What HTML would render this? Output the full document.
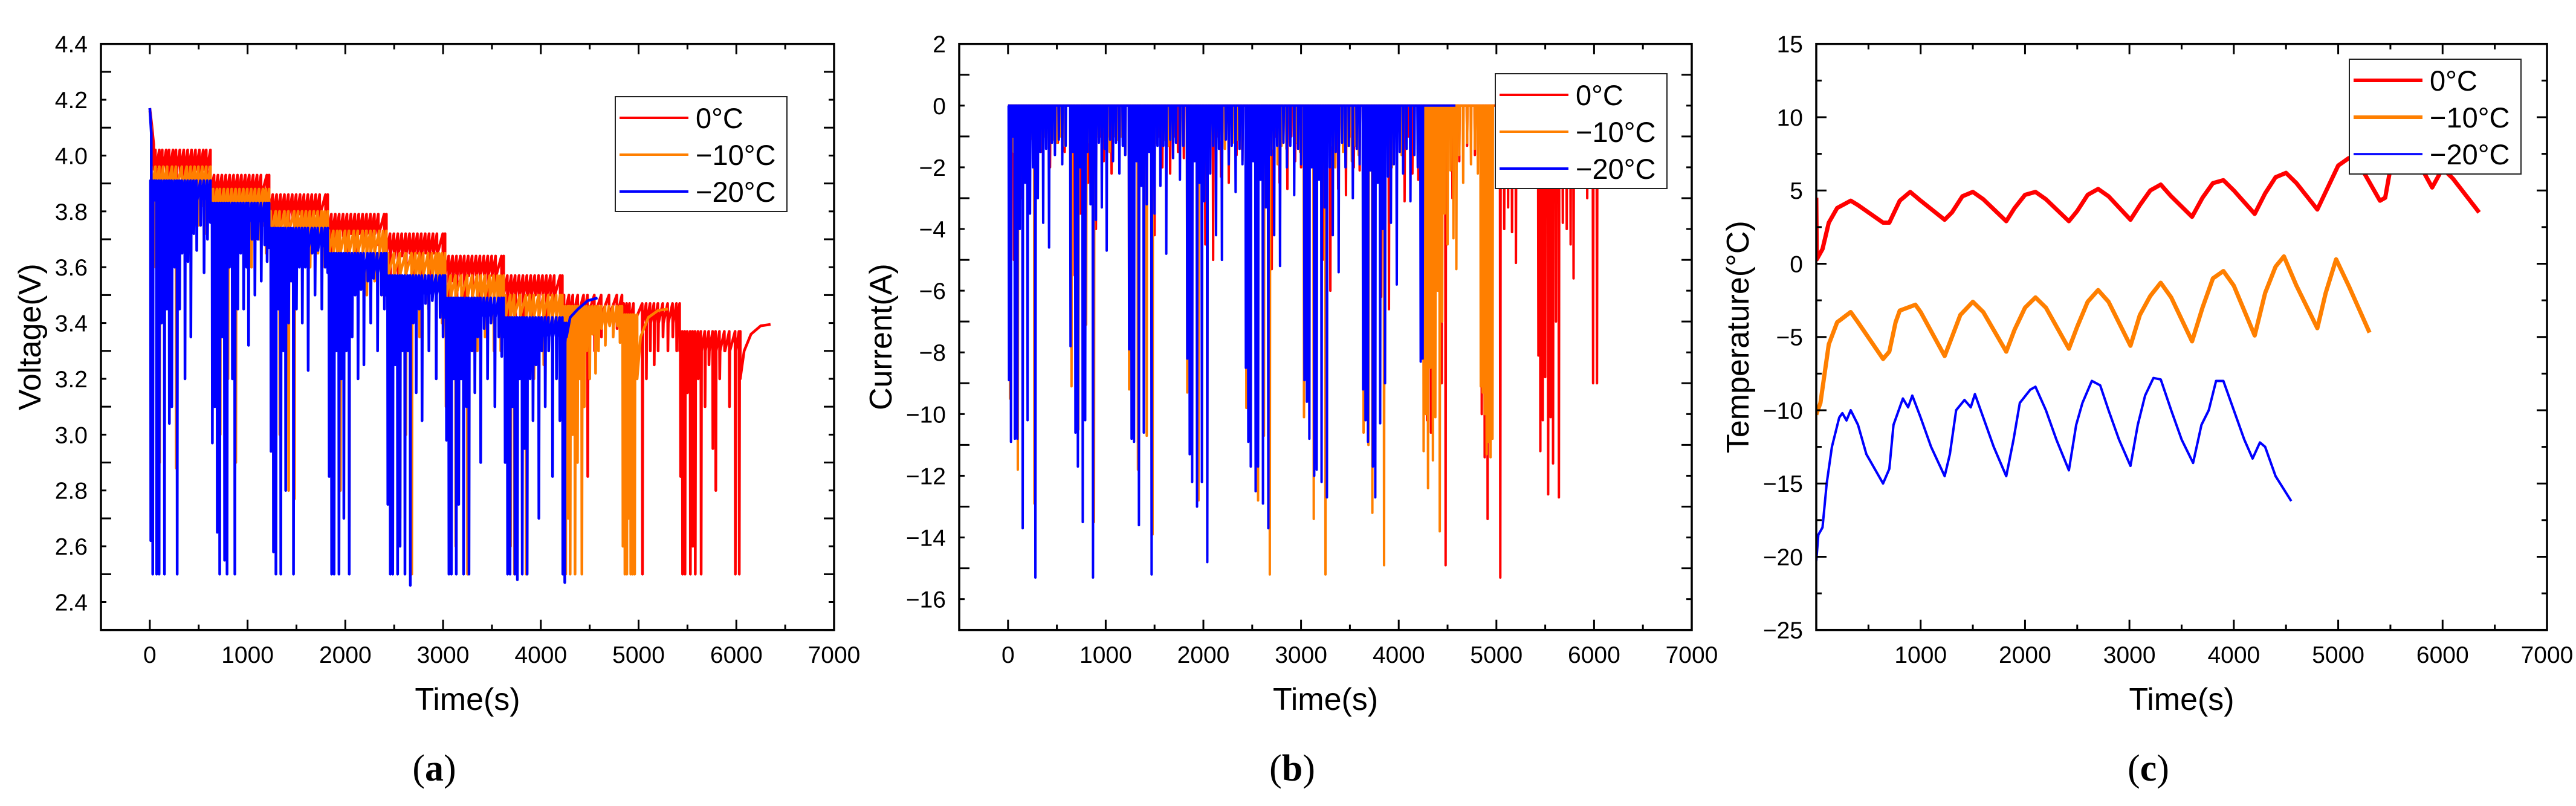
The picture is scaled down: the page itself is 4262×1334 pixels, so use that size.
<!DOCTYPE html>
<html><head><meta charset="utf-8"><style>
html,body{margin:0;padding:0;background:#fff;}
svg{display:block;font-family:"Liberation Sans",sans-serif;}
</style></head><body>
<svg id="fig" width="4262" height="1334" viewBox="0 0 4262 1334" xmlns="http://www.w3.org/2000/svg"></svg>
<script>
// ===== Panel (a)/(b) data: blue (-20°C) =====
const blueBlockStart=[0,620,1220,1820,2420,3020,3620,4220];
const blueBlockTop=[3.91,3.83,3.74,3.65,3.57,3.49,3.42,3.40];
const blueStartT=[0,15];
const blueStartV=[4.17,4.08];
const blueT=[10,30,50,70,95,120,150,175,200,225,255,280,305,330,360,390,420,450,480,520,555,590,
640,665,690,715,740,765,790,815,845,870,900,930,960,990,1010,1045,1075,1105,1140,1175,1200,
1240,1265,1290,1315,1340,1365,1390,1420,1445,1470,1500,1530,1560,1590,1620,1660,1690,1720,1760,1795,
1835,1860,1885,1910,1935,1960,1985,2010,2040,2070,2100,2130,2160,2190,2230,2260,2290,2330,2370,2400,
2435,2460,2485,2510,2535,2560,2585,2610,2640,2665,2695,2725,2755,2785,2820,2855,2890,2930,2970,3000,
3035,3060,3085,3110,3135,3160,3185,3210,3240,3265,3295,3325,3355,3385,3420,3455,3490,3530,3570,3600,
3635,3660,3685,3710,3735,3760,3785,3810,3835,3860,3890,3920,3950,3980,4010,4045,4080,4120,4160,4195,
4225,4245];
const blueV=[2.62,2.5,3.87,2.5,2.5,3.4,2.5,3.45,3.04,3.1,3.6,2.5,3.45,3.65,3.2,3.62,3.35,3.72,3.66,3.75,3.58,3.7,
2.97,3.1,2.65,2.5,3.35,2.55,2.5,3.6,3.2,2.5,3.45,3.65,3.45,3.6,3.32,3.7,3.5,3.7,3.55,3.68,3.62,
2.94,2.58,2.5,3.45,2.5,3.3,2.8,3.4,3.55,2.5,3.45,3.6,3.4,3.6,3.23,3.65,3.5,3.66,3.45,3.6,
2.85,2.5,2.5,3.3,2.5,3.2,2.7,3.3,2.5,3.35,3.5,3.2,3.52,3.25,3.55,3.4,3.56,3.3,3.5,3.45,
2.75,2.5,2.5,3.25,2.5,2.6,3.3,2.5,3.3,2.46,3.4,3.15,3.45,3.05,3.47,3.3,3.48,3.2,3.42,3.35,
2.98,2.5,2.5,3.2,2.5,2.75,3.2,2.5,3.1,2.5,3.3,3.15,3.35,2.9,3.38,3.2,3.4,3.1,3.35,3.28,
2.9,2.5,2.5,3.1,2.5,2.48,3.2,2.5,2.95,2.5,3.2,3.05,3.25,2.7,3.3,3.1,3.3,2.85,3.2,3.05,
2.5,2.47];
const blueI=[-8.9,-10.9,-1,-10.8,-10.8,-4,-13.7,-2.5,-10.2,-3.5,-2,-15.3,-3,-1.5,-3.8,-1.4,-4.6,-1.2,-1.6,-1.1,-1.9,-1.3,
-7.8,-1.5,-10.6,-11.7,-2,-13.5,-10.2,-1.5,-3.2,-15.3,-3.7,-1.2,-3.3,-1.4,-4.7,-1.1,-1.8,-1.2,-2.2,-1.3,-1.6,
-7.9,-10.8,-10.9,-1.8,-13.6,-2.6,-10.6,-3.2,-1.5,-15.2,-3.5,-1.3,-2.6,-1.3,-4.8,-1.1,-1.7,-1.2,-2.4,-1.3,
-8.2,-11.3,-12.2,-1.8,-13,-2.5,-12.2,-3.1,-14.8,-2.2,-1.3,-4.2,-1.4,-5,-1.1,-1.9,-1.3,-2.8,-1.4,-1.9,
-8.5,-10.9,-11.7,-1.8,-12.5,-11.7,-2.4,-12.9,-3.3,-13.7,-1.6,-4.2,-1.3,-5.2,-1.2,-2,-1.3,-2.9,-1.4,-1.9,
-8.9,-9.6,-10.8,-2,-12,-11.8,-2.4,-12.2,-3.3,-12.7,-2,-4.2,-1.5,-5.4,-1.2,-2,-1.3,-3,-1.4,-1.9,
-9.2,-10.2,-10.9,-2.1,-11.7,-12.7,-2.5,-10.3,-4,-9,-2.3,-3.8,-1.9,-5.8,-1.5,-2.2,-1.4,-3.1,-1.6,-2,
-8.3,-8.2];
const blueRelaxT=[4262,4300,4380,4480,4580];
const blueRelaxV=[3.35,3.42,3.45,3.48,3.49];

// ===== orange (-10°C) =====
const orangeBlockStart=[0,620,1220,1820,2420,3020,3620,4220,4830];
const orangeBlockTop=[3.96,3.88,3.80,3.73,3.65,3.57,3.50,3.46,3.43];
const orangeStartT=[0,15];
const orangeStartV=[4.16,4.1];
const orangeT=[20,60,100,140,180,230,270,330,380,420,460,500,540,580,
650,690,720,760,800,840,880,920,960,1000,1040,1080,1120,1160,1190,
1240,1290,1330,1380,1420,1480,1520,1560,1600,1640,1680,1720,1760,1790,
1835,1880,1920,1950,2000,2040,2090,2130,2180,2220,2260,2300,2350,2390,
2440,2500,2560,2620,2680,2720,2760,2800,2850,2890,2930,2960,2990,
3030,3080,3130,3190,3250,3300,3350,3390,3430,3480,3520,3560,3590,
3640,3690,3730,3790,3850,3890,3930,3980,4030,4080,4120,4160,4200,
4230,4255,4280,4300,4325,4350,4375,4400,4420,4445,4470,4500,4530,4560,4590,4620,4660,4700,4740,4780,4810,
4840,4860,4880,4900,4920,4940,4960];
const orangeV=[2.9,3.6,2.9,3.7,3.5,3.75,2.88,3.7,3.78,3.55,3.8,3.75,3.82,3.72,
3.3,3.7,3.0,3.72,3.2,3.7,2.9,3.74,3.65,3.75,3.6,3.76,3.7,3.75,3.65,
3.3,3.65,3.0,3.66,2.8,2.77,3.66,3.55,3.7,3.6,3.7,3.65,3.68,3.6,
3.3,2.9,3.6,2.8,3.6,2.67,3.62,3.4,3.62,3.5,3.6,3.55,3.62,3.5,
3.2,3.5,2.7,3.0,2.5,3.5,3.35,3.52,3.45,3.54,3.4,3.52,3.4,
3.1,3.1,2.6,3.42,2.5,3.45,3.3,3.46,3.35,3.46,3.3,3.44,3.3,
3.0,2.6,2.5,3.38,2.5,3.4,3.2,3.38,3.25,3.38,3.2,3.36,3.1,
2.5,2.5,2.7,2.5,3.0,2.5,2.9,3.2,2.5,3.1,3.3,3.2,3.36,3.22,3.3,3.38,3.32,3.4,3.35,3.4,3.33,
2.6,2.5,2.5,2.7,2.5,2.5,2.5];
const orangeI=[-9.5,-1.5,-11.8,-1.2,-2,-1.1,-12.9,-1.4,-1,-3,-1.1,-1.2,-1,-1.3,
-9.1,-1.2,-10.5,-1.1,-7.1,-1.2,-13.5,-1,-1.3,-1.1,-1.5,-1,-1.1,-1,-1.3,
-9.2,-1.3,-11.8,-1.2,-10.7,-13.9,-1.2,-1.6,-1.1,-1.3,-1.1,-1.1,-1,-1.3,
-9.3,-10.1,-1.3,-12.8,-1.2,-14.6,-1.1,-1.7,-1.1,-1.4,-1.2,-1.2,-1.1,-1.4,
-9.8,-1.5,-12.8,-10.7,-15.2,-1.4,-1.9,-1.3,-1.4,-1.2,-1.6,-1.2,-1.5,
-10.1,-9.6,-13.4,-1.5,-15.2,-1.3,-2,-1.3,-1.5,-1.3,-1.8,-1.3,-1.6,
-10.6,-11,-13.2,-1.5,-14.9,-1.4,-2,-1.4,-1.6,-1.4,-1.8,-1.4,-2,
-8.2,-11.2,-10,-12.4,-8.5,-11.5,-10.1,-6,-13.8,-7,-3.5,-4.5,-2.1,-4.3,-5.3,-1.6,-2.5,-1.2,-1.9,-1.4,-2.2,
-9.1,-9.3,-10,-11.3,-10.9,-11.4,-10.8];
const orangeRelaxT=[4985,5020,5100,5200,5300];
const orangeRelaxV=[3.2,3.35,3.42,3.445,3.45];

// ===== red (0°C) =====
const redBlockStart=[0,620,1220,1820,2420,3020,3620,4220,4830,5420];
const redBlockTop=[4.02,3.93,3.86,3.79,3.72,3.64,3.57,3.50,3.47,3.37];
const redStartT=[0,20,40];
const redStartV=[4.17,4.11,4.04];
const redT=[60,100,130,170,200,240,270,310,350,390,430,470,510,550,580,
660,700,740,780,820,860,900,940,980,1020,1060,1100,1140,1200,
1260,1300,1340,1380,1420,1460,1500,1540,1580,1620,1660,1700,1740,1800,
1860,1900,1940,1980,2020,2060,2100,2140,2180,2220,2260,2300,2340,2400,
2460,2500,2540,2580,2620,2660,2700,2740,2780,2820,2860,2900,2940,3000,
3060,3100,3140,3180,3220,3260,3300,3340,3380,3420,3460,3500,3540,3600,
3660,3700,3740,3780,3820,3860,3900,3940,3980,4020,4060,4100,4140,4200,
4240,4290,4330,4380,4440,4480,4550,4620,4700,4780,
4850,4880,4910,4950,5040,5080,5120,5160,5200,5250,5300,5350,5390,
5430,5450,5475,5500,5530,5555,5580,5610,5640,5680,5720,5760,5790,5830,5880,5930,5990,6030];
const redV=[3.6,3.9,3.7,3.92,3.8,3.93,3.75,3.94,3.85,3.93,3.8,3.95,3.88,3.95,3.85,
3.55,3.84,3.65,3.85,3.7,3.86,3.6,3.86,3.75,3.87,3.7,3.86,3.8,3.78,
3.5,3.77,3.6,3.78,3.62,3.78,3.55,3.79,3.7,3.78,3.68,3.8,3.75,3.72,
3.45,3.7,3.5,3.71,3.55,3.72,3.5,3.72,3.62,3.72,3.6,3.73,3.68,3.65,
3.35,3.63,3.45,3.64,3.4,3.65,3.42,3.65,3.55,3.66,3.52,3.66,3.6,3.58,
3.3,3.55,3.35,3.56,3.4,3.57,3.3,3.57,3.48,3.58,3.45,3.58,3.52,3.5,
3.2,3.48,3.3,3.49,3.28,3.5,3.25,3.5,3.4,3.5,3.38,3.5,3.45,3.42,
3.0,3.1,3.2,3.3,3.1,2.85,3.3,3.35,3.4,3.38,
2.9,3.2,3.0,3.3,2.5,3.2,3.3,3.25,3.3,3.35,3.3,3.35,3.3,
2.85,2.5,2.5,3.15,2.5,2.6,2.5,3.2,2.5,3.1,3.25,2.95,2.8,3.2,3.3,3.1,2.5,2.5];
const redI=[-5,-1,-3,-1,-2,-1,-2.5,-1,-1.5,-1,-2,-1,-1.2,-1,-1.5,
-5.5,-1,-3.5,-1,-2.5,-1,-4,-1,-1.8,-1,-2.2,-1,-1.4,-1.6,
-6,-1,-4,-1,-3.5,-1,-4.2,-1,-2,-1,-2.2,-1,-1.5,-1.7,
-6.2,-1,-5,-1,-4.5,-1,-5,-1,-2.3,-1,-2.5,-1,-1.6,-1.8,
-6.5,-1,-5.2,-1,-5.5,-1,-5.3,-1,-2.5,-1,-2.7,-1,-1.8,-2,
-6.8,-1,-5.5,-1,-5,-1,-6,-1,-2.7,-1,-2.9,-1,-2,-2.1,
-7.5,-1,-6,-1,-6.2,-1,-6.6,-1,-3,-1,-3.1,-1,-2.2,-2.4,
-8,-10.2,-10.6,-6,-9,-14.9,-3,-1.8,-1.3,-1.6,
-10,-11.4,-13.4,-5,-15.3,-4,-3.3,-4.1,-5.1,-2,-2.6,-1.6,-2,
-8.1,-11.2,-10.2,-8.8,-12.6,-10.1,-11.6,-7,-12.7,-3.8,-4,-4.5,-5.6,-2.5,-1.6,-3,-9,-9];
const redRelaxT=[6040,6080,6150,6250,6350];
const redRelaxV=[3.2,3.3,3.36,3.39,3.395];

// ===== Panel (c) temperature =====
const tempRedT=[0,5,60,120,200,330,400,640,700,800,900,1000,1230,1300,1400,1500,1600,1820,1900,2000,2100,2200,2420,2500,2600,2700,2800,3010,3100,3200,3300,3400,3600,3700,3800,3900,4000,4200,4300,4400,4500,4600,4800,4900,5000,5100,5200,5400,5450,5500,5600,5700,5800,5900,6000,6100,6350];
const tempRedV=[4.5,0.3,1,2.8,3.8,4.3,4,2.8,2.8,4.3,4.9,4.3,3,3.5,4.6,4.9,4.4,2.9,3.8,4.7,4.9,4.4,2.9,3.6,4.7,5.1,4.6,3.0,4,5,5.4,4.6,3.2,4.5,5.5,5.7,5,3.4,4.8,5.9,6.2,5.5,3.7,5.2,6.7,7.2,6.8,4.3,4.5,6.5,7.3,7.3,6.5,5.2,6.5,5.8,3.5];
const tempOrangeT=[0,40,80,120,200,330,400,640,700,760,800,950,1000,1230,1300,1380,1500,1600,1820,1900,2000,2100,2200,2420,2500,2600,2700,2800,3010,3100,3200,3300,3400,3600,3700,3800,3900,4000,4200,4300,4400,4480,4600,4800,4880,4980,5100,5300];
const tempOrangeV=[-10.3,-9.5,-7.5,-5.5,-4,-3.3,-4,-6.5,-6,-4,-3.2,-2.8,-3.3,-6.3,-5,-3.5,-2.6,-3.3,-6,-4.5,-3,-2.3,-3,-5.8,-4.3,-2.6,-1.8,-2.6,-5.6,-3.5,-2.2,-1.3,-2.3,-5.3,-3,-1,-0.5,-1.5,-4.9,-2,-0.2,0.5,-1.5,-4.4,-2,0.3,-1.5,-4.7];
const tempBlueT=[0,20,60,100,150,220,250,290,330,400,480,640,700,740,830,880,920,1000,1100,1230,1280,1340,1420,1480,1520,1600,1700,1820,1890,1950,2050,2100,2200,2300,2420,2490,2550,2640,2720,2800,2900,3010,3080,3150,3230,3300,3400,3500,3610,3690,3760,3830,3900,4000,4100,4180,4250,4300,4400,4550];
const tempBlueV=[-20.3,-18.5,-18,-15,-12.5,-10.5,-10.2,-10.7,-10,-11,-13,-15,-14,-11,-9.2,-9.8,-9,-10.5,-12.5,-14.5,-13,-10,-9.3,-9.8,-8.9,-10.5,-12.5,-14.5,-12,-9.5,-8.6,-8.4,-10,-12,-14.1,-11,-9.5,-8,-8.3,-10,-12,-13.8,-11,-9,-7.8,-7.9,-10,-12,-13.6,-11,-10,-8,-8,-10,-12,-13.3,-12.2,-12.5,-14.5,-16.2];

// tick arrays
const xTicksAB=[0,1000,2000,3000,4000,5000,6000,7000];
const xTicksC=[1000,2000,3000,4000,5000,6000,7000];
const yTicksA=[2.4,2.6,2.8,3.0,3.2,3.4,3.6,3.8,4.0,4.2,4.4];
const yTicksB=[2,0,-2,-4,-6,-8,-10,-12,-14,-16];
const yTicksC=[15,10,5,0,-5,-10,-15,-20,-25];
const legendLabels=["0°C","−10°C","−20°C"];
const COLORS=["#ff0000","#ff7f00","#0000ff"];
const RECOVERY_DROP=0.07; // visual recovery sag after each pulse (V)

const NS="http://www.w3.org/2000/svg";
const svg=document.getElementById('fig');
function el(tag,attrs,parent,txt){const e=document.createElementNS(NS,tag);for(const k in attrs)e.setAttribute(k,attrs[k]);if(txt!==undefined)e.textContent=txt;(parent||svg).appendChild(e);return e;}
function fmtNeg(v,dec){const s=Math.abs(v).toFixed(dec);return (v<0?"−":"")+s;}

function makePanel(cfg){
  const g=el('g',{});
  
  
  const L=cfg.left,R=cfg.right,T=72.7,B=1042.7;
  const sx=v=>L+(v-cfg.xmin)/(cfg.xmax-cfg.xmin)*(R-L);
  const sy=v=>T+(cfg.ymax-v)/(cfg.ymax-cfg.ymin)*(B-T);
  const clip=el('clipPath',{id:'clip-'+cfg.name},g);
  el('rect',{x:L,y:T,width:R-L,height:B-T},clip);
  const plot=el('g',{'clip-path':'url(#clip-'+cfg.name+')'},g);
  
  
  cfg.draw(plot,sx,sy);
  const fr=el('rect',{x:L,y:T,width:R-L,height:B-T,fill:'none',stroke:'#000','stroke-width':3.5},g);
  
  
  const xax=el('g',{},g);
  
  
  for(let v=cfg.xmin;v<=cfg.xmax;v+=500){
    const X=sx(v);const major=(v%1000===0);const len=major?17:9;
    el('line',{x1:X,y1:B,x2:X,y2:B-len,stroke:'#000','stroke-width':3},xax);
    el('line',{x1:X,y1:T,x2:X,y2:T+len,stroke:'#000','stroke-width':3},xax);
  }
  cfg.xTicks.forEach(v=>{
    const t=el('text',{x:sx(v),y:1097,'font-size':39,'text-anchor':'middle'},xax,String(v));
    
    
  });
  const xt=el('text',{x:(L+R)/2,y:1175,'font-size':52,'text-anchor':'middle'},g,'Time(s)');
  
  
  const yax=el('g',{},g);
  
  
  for(let i=0;;i++){const v=cfg.ymin+i*cfg.yminor;if(v>cfg.ymax+1e-9)break;
    const Y=sy(v);const major=(i%cfg.majorEvery)===0;const len=major?17:9;
    el('line',{x1:L,y1:Y,x2:L+len,y2:Y,stroke:'#000','stroke-width':3},yax);
    el('line',{x1:R,y1:Y,x2:R-len,y2:Y,stroke:'#000','stroke-width':3},yax);
  }
  cfg.yTicks.forEach(v=>{
    const t=el('text',{x:L-22,y:sy(v)+14,'font-size':39,'text-anchor':'end'},yax,fmtNeg(v,cfg.dec));
    
    
  });
  const cy=(T+B)/2;
  const yt=el('text',{x:cfg.ytitleX,y:cy,'font-size':52,'text-anchor':'middle','dominant-baseline':'central',transform:`rotate(-90 ${cfg.ytitleX} ${cy})`},g,cfg.ytitle);
  
  
  const lg=el('g',{},g);
  
  
  const lx=cfg.legend[0],ly=cfg.legend[1],lw=284,lh=190;
  el('rect',{x:lx,y:ly,width:lw,height:lh,fill:'#fff',stroke:'#222','stroke-width':2},lg);
  legendLabels.forEach((lab,i)=>{
    const ey=ly+35+i*61;
    const ent=el('g',{},lg);
    
    
    el('line',{x1:lx+7,y1:ey,x2:lx+121,y2:ey,stroke:COLORS[i],'stroke-width':cfg.legendW[i]},ent);
    el('text',{x:lx+133,y:ey+17,'font-size':47},ent,lab);
  });
  const cap=el('text',{x:(L+R)/2-55,y:1292,'font-size':62,'text-anchor':'middle','font-family':'"Liberation Serif",serif'},g);
  
  
  el('tspan',{},cap,'(');el('tspan',{'font-weight':'bold'},cap,cfg.cap);el('tspan',{},cap,')');
}

function blockIdx(starts,t){let b=0;for(let i=0;i<starts.length;i++)if(t>=starts[i])b=i;return b;}
function voltPath(sx,sy,startT,startV,starts,tops,T,V,relT,relV){
  let d='M'+sx(startT[0])+','+sy(startV[0]);
  for(let i=1;i<startT.length;i++)d+='L'+sx(startT[i])+','+sy(startV[i]);
  let k=0;
  for(let b=0;b<starts.length;b++){
    const top=tops[b];
    d+='L'+sx(Math.max(starts[b],startT[startT.length-1]))+','+sy(top-RECOVERY_DROP);
    while(k<T.length&&blockIdx(starts,T[k])===b){
      d+='L'+sx(T[k]-3)+','+sy(top)+'L'+sx(T[k])+','+sy(V[k])+'L'+sx(T[k]+4)+','+sy(top-RECOVERY_DROP);k++;
    }
    const end=(b+1<starts.length)?starts[b+1]:relT[0];
    d+='L'+sx(end)+','+sy(top);
  }
  for(let i=0;i<relT.length;i++)d+='L'+sx(relT[i])+','+sy(relV[i]);
  return d;
}
function currPath(sx,sy,T,I,endT){
  let d='M'+sx(0)+','+sy(0);
  for(let k=0;k<T.length;k++)d+='L'+sx(T[k]-4)+','+sy(0)+'L'+sx(T[k])+','+sy(I[k])+'L'+sx(T[k]+4)+','+sy(0);
  d+='L'+sx(endT)+','+sy(0);return d;
}
function linePath(sx,sy,T,V){return T.map((t,i)=>(i?'L':'M')+sx(t)+','+sy(V[i])).join('');}
function addPath(parent,d,color,w,name){
  const p=el('path',{d:d,fill:'none',stroke:color,'stroke-width':w,'stroke-linejoin':'round'},parent);
  
  
}

makePanel({name:'voltage-chart',left:167,right:1380,xmin:-500,xmax:7000,ymin:2.3,ymax:4.4,yminor:0.1,majorEvery:2,
  xTicks:xTicksAB,yTicks:yTicksA,dec:1,ytitle:'Voltage(V)',ytitleX:50,legend:[1018,160],legendW:[4,4,4],cap:'a',
  draw:(p,sx,sy)=>{
    addPath(p,voltPath(sx,sy,redStartT,redStartV,redBlockStart,redBlockTop,redT,redV,redRelaxT,redRelaxV),COLORS[0],4.5,'series-0c');
    addPath(p,voltPath(sx,sy,orangeStartT,orangeStartV,orangeBlockStart,orangeBlockTop,orangeT,orangeV,orangeRelaxT,orangeRelaxV),COLORS[1],4.5,'series-minus10c');
    addPath(p,voltPath(sx,sy,blueStartT,blueStartV,blueBlockStart,blueBlockTop,blueT,blueV,blueRelaxT,blueRelaxV),COLORS[2],4.5,'series-minus20c');
  }});
makePanel({name:'current-chart',left:1587,right:2799,xmin:-500,xmax:7000,ymin:-17,ymax:2,yminor:1,majorEvery:2,
  xTicks:xTicksAB,yTicks:yTicksB,dec:0,ytitle:'Current(A)',ytitleX:1458,legend:[2474,122],legendW:[4,4,4],cap:'b',
  draw:(p,sx,sy)=>{
    addPath(p,currPath(sx,sy,redT,redI,6040),COLORS[0],4,'series-0c');
    addPath(p,currPath(sx,sy,orangeT,orangeI,4980),COLORS[1],4,'series-minus10c');
    addPath(p,currPath(sx,sy,blueT,blueI,4580),COLORS[2],4,'series-minus20c');
  }});
makePanel({name:'temperature-chart',left:3005,right:4214,xmin:0,xmax:7000,ymin:-25,ymax:15,yminor:2.5,majorEvery:2,
  xTicks:xTicksC,yTicks:yTicksC,dec:0,ytitle:'Temperature(°C)',ytitleX:2876,legend:[3887,98],legendW:[6,6,3.5],cap:'c',
  draw:(p,sx,sy)=>{
    addPath(p,linePath(sx,sy,tempRedT,tempRedV),COLORS[0],7,'series-0c');
    addPath(p,linePath(sx,sy,tempOrangeT,tempOrangeV),COLORS[1],7,'series-minus10c');
    addPath(p,linePath(sx,sy,tempBlueT,tempBlueV),COLORS[2],4,'series-minus20c');
  }});
</script>
</body></html>
